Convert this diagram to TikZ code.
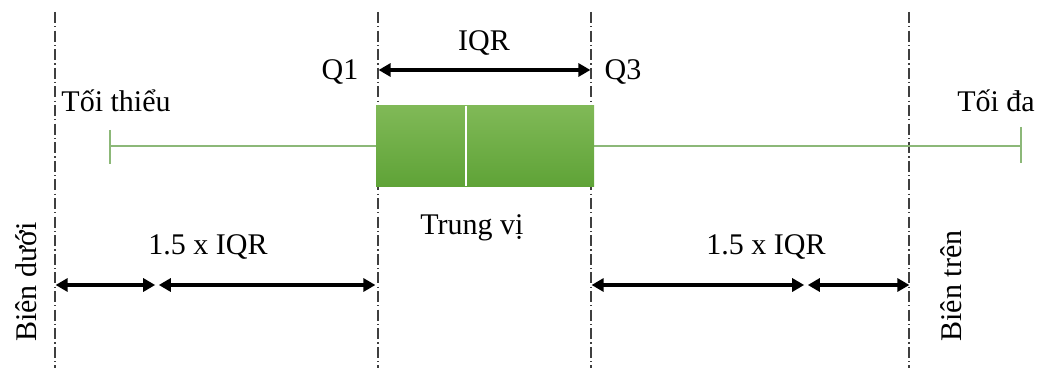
\documentclass[tikz,border=0pt]{standalone}
\usepackage{fontspec}
\setmainfont{Liberation Serif}
\usetikzlibrary{arrows.meta}
\definecolor{boxtop}{HTML}{80B957}
\definecolor{boxbot}{HTML}{5FA337}
\definecolor{whisk}{HTML}{8CB878}
\definecolor{guide}{HTML}{3F3F3F}
\tikzset{
  guide/.style={draw=guide, line width=0.55pt, dash pattern=on 5.5pt off 1.6pt on 0.6pt off 1.6pt},
  whisk/.style={draw=whisk, line width=0.6pt},
  span/.style={draw=black, line width=1.6pt, {Triangle[length=6pt,width=6.5pt]}-{Triangle[length=6pt,width=6.5pt]}, shorten <=0.3pt, shorten >=0.3pt},
  lab/.style={text=black, font=\fontsize{15}{18}\selectfont, inner sep=0pt},
  vlab/.style={lab, rotate=90},
}

\begin{document}
\begin{tikzpicture}[x=0.5pt,y=-0.5pt]
  \useasboundingbox (0,0) rectangle (1038,369);
  % guide lines: lower fence, Q1, Q3, upper fence
  \foreach \n/\x in {lf/55, qa/378, qc/591, uf/909} {
    \coordinate (\n t) at (\x,12);
    \coordinate (\n b) at (\x,368);
    \draw[guide] (\n t) -- (\n b);
  }
  % whisker
  \coordinate (minv) at (110,146);
  \coordinate (maxv) at (1021,146);
  \draw[whisk] (minv) -- (maxv);
  \draw[whisk] ([yshift=8pt]minv) -- ([yshift=-9pt]minv);
  \draw[whisk] ([yshift=9.5pt]maxv) -- ([yshift=-8.5pt]maxv);
  % box
  \node[top color=boxtop, bottom color=boxbot, minimum width=109pt, minimum height=40pt, inner sep=0pt] (box) at (485,146) {};
  \coordinate (med) at (466,146);
  \draw[white, line width=1.3pt] (med |- box.north) -- (med |- box.south);
  % IQR span
  \coordinate (qa) at (378,70);
  \coordinate (qc) at (591,70);
  \draw[span] (qa) -- (qc);
  \node[lab] (iqr) at (484,43) {IQR};
  \node[lab] (q1) at (340,72) {Q1};
  \node[lab] (q3) at (623,72) {Q3};
  \node[lab] (mint) at (116,101) {Tối thiểu};
  \node[lab] (maxt) at (996,101) {Tối đa};
  \node[lab] (medt) at (472,228) {Trung vị};
  % 1.5 x IQR spans
  \coordinate (la) at (55,285);
  \coordinate (lm) at (157,285);
  \coordinate (lc) at (376,285);
  \coordinate (ra) at (591,285);
  \coordinate (rm) at (806,285);
  \coordinate (rc) at (910,285);
  \draw[span] (la) -- ([xshift=-0.6pt]lm);
  \draw[span] ([xshift=0.6pt]lm) -- (lc);
  \draw[span] (ra) -- ([xshift=-0.6pt]rm);
  \draw[span] ([xshift=0.6pt]rm) -- (rc);
  \node[lab] (lspan) at (208,247) {1.5 x IQR};
  \node[lab] (rspan) at (766,247) {1.5 x IQR};
  \node[vlab] (lft) at (26,282) {Biên dưới};
  \node[vlab] (uft) at (951,286) {Biên trên};
\end{tikzpicture}
\end{document}
